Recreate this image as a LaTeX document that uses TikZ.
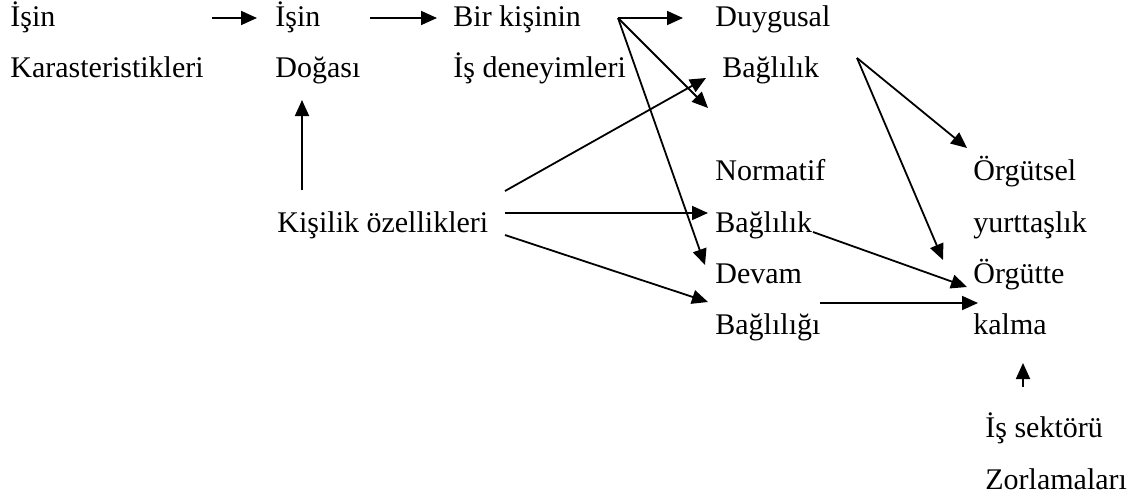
\documentclass[tikz,border=0pt]{standalone}
\usepackage{fontspec}
\setmainfont{Liberation Serif}
\usetikzlibrary{arrows.meta}

\begin{document}
\begin{tikzpicture}[x=0.5pt, y=-0.5pt,
    every node/.style={font=\fontsize{15}{18}\selectfont},
    lbl/.style={anchor=base west, inner sep=0pt},
    arr/.style={-{Triangle[length=8pt, width=7pt]}, line width=0.9pt}]
  \useasboundingbox (0,0) rectangle (1140,503);
  % texts
  \node[lbl] (isinA) at (10,26) {İşin};
  \node[lbl] (karakter) at (10,77) {Karasteristikleri};
  \node[lbl] (isinB) at (275,26) {İşin};
  \node[lbl] (doga) at (275,77) {Doğası};
  \node[lbl] (birkisi) at (453,26) {Bir kişinin};
  \node[lbl] (deneyim) at (453,77) {İş deneyimleri};
  \node[lbl] (duygu) at (715,26) {Duygusal};
  \node[lbl] (duyguB) at (722,77) {Bağlılık};
  \node[lbl] (kisilik) at (277,232) {Kişilik özellikleri};
  \node[lbl] (norm) at (715,180) {Normatif};
  \node[lbl] (normB) at (715,232) {Bağlılık};
  \node[lbl] (devam) at (715,283) {Devam};
  \node[lbl] (devamB) at (715,334) {Bağlılığı};
  \node[lbl] (orgut) at (973,180) {Örgütsel};
  \node[lbl] (yurt) at (973,232) {yurttaşlık};
  \node[lbl] (kalma) at (973,283) {Örgütte};
  \node[lbl] (kalmaB) at (973,334) {kalma};
  \node[lbl] (sektor) at (985,437) {İş sektörü};
  \node[lbl] (zorla) at (985,489) {Zorlamaları};
  % arrow ends
  \coordinate (karOut) at (212,18);
  \coordinate (dogaIn) at (257,18);
  \coordinate (dogaOut) at (370,18);
  \coordinate (denIn) at (437,18);
  \coordinate (denOut) at (618,18);
  \coordinate (duyIn) at (683,18);
  \coordinate (duyIn2) at (708,108);
  \coordinate (devIn) at (705,265);
  \coordinate (kisUp) at (302,190);
  \coordinate (dogaBot) at (302,100);
  \coordinate (kisA) at (505,191);
  \coordinate (kisB) at (505,213);
  \coordinate (kisC) at (505,235);
  \coordinate (duyIn3) at (706,78);
  \coordinate (normIn) at (708,213);
  \coordinate (devIn2) at (708,302);
  \coordinate (duyOut) at (857,58);
  \coordinate (orgIn) at (967,148);
  \coordinate (kalIn) at (943,260);
  \coordinate (normOut) at (813,232);
  \coordinate (kalIn2) at (967,287);
  \coordinate (devOut) at (820,303);
  \coordinate (kalIn3) at (978,303);
  \coordinate (sekUp) at (1023,387);
  \coordinate (kalBot) at (1023,363);
  % arrows
  \draw[arr] (karOut) -- (dogaIn);
  \draw[arr] (dogaOut) -- (denIn);
  \draw[arr] (denOut) -- (duyIn);
  \draw[arr] (denOut) -- (duyIn2);
  \draw[arr] (denOut) -- (devIn);
  \draw[arr] (kisUp) -- (dogaBot);
  \draw[arr] (kisA) -- (duyIn3);
  \draw[arr] (kisB) -- (normIn);
  \draw[arr] (kisC) -- (devIn2);
  \draw[arr] (duyOut) -- (orgIn);
  \draw[arr] (duyOut) -- (kalIn);
  \draw[arr] (normOut) -- (kalIn2);
  \draw[arr] (devOut) -- (kalIn3);
  \draw[arr] (sekUp) -- (kalBot);
\end{tikzpicture}
\end{document}
